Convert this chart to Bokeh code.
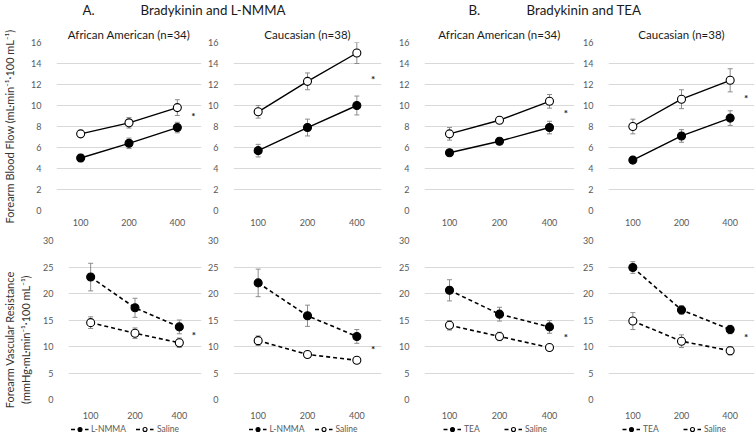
from bokeh.plotting import figure
from bokeh.models import (ColumnDataSource, FactorRange, Range1d, FixedTicker, Whisker,
                          TeeHead, Legend, LegendItem, Label)
from bokeh.transform import dodge
from bokeh.layouts import column, row
from bokeh.embed import file_html
from bokeh.resources import INLINE
from bokeh.core.properties import value

# ---------------- data ----------------
doses = ["100", "200", "400"]
fbf_ticks = [0, 2, 4, 6, 8, 10, 12, 14, 16]
fvr_ticks = [0, 5, 10, 15, 20, 25, 30]

# A. Bradykinin and L-NMMA -- forearm blood flow
fbf_aa_lnmma = [5.0, 6.4, 7.9]
fbf_aa_lnmma_err = [0.35, 0.5, 0.5]
fbf_aa_lnmma_saline = [7.3, 8.35, 9.8]
fbf_aa_lnmma_saline_err = [0.3, 0.5, 0.75]
fbf_aa_lnmma_star = 9.0

fbf_ca_lnmma = [5.7, 7.9, 10.0]
fbf_ca_lnmma_err = [0.6, 0.8, 0.9]
fbf_ca_lnmma_saline = [9.4, 12.3, 15.0]
fbf_ca_lnmma_saline_err = [0.6, 0.8, 1.0]
fbf_ca_lnmma_star = 12.5

# B. Bradykinin and TEA -- forearm blood flow
fbf_aa_tea = [5.5, 6.6, 7.9]
fbf_aa_tea_err = [0.2, 0.2, 0.6]
fbf_aa_tea_saline = [7.3, 8.6, 10.4]
fbf_aa_tea_saline_err = [0.6, 0.3, 0.65]
fbf_aa_tea_star = 9.3

fbf_ca_tea = [4.8, 7.1, 8.8]
fbf_ca_tea_err = [0.3, 0.6, 0.7]
fbf_ca_tea_saline = [8.0, 10.6, 12.4]
fbf_ca_tea_saline_err = [0.7, 0.9, 1.1]
fbf_ca_tea_star = 10.75

# A. forearm vascular resistance
fvr_aa_lnmma = [23.1, 17.3, 13.7]
fvr_aa_lnmma_err = [2.6, 1.8, 1.3]
fvr_aa_lnmma_saline = [14.5, 12.5, 10.7]
fvr_aa_lnmma_saline_err = [1.1, 1.0, 0.9]
fvr_aa_lnmma_star = 12.1

fvr_ca_lnmma = [22.0, 15.8, 11.9]
fvr_ca_lnmma_err = [2.6, 2.0, 1.3]
fvr_ca_lnmma_saline = [11.1, 8.5, 7.4]
fvr_ca_lnmma_saline_err = [0.9, 0.4, 0.4]
fvr_ca_lnmma_star = 9.5

# B. forearm vascular resistance
fvr_aa_tea = [20.6, 16.1, 13.7]
fvr_aa_tea_err = [2.0, 1.3, 1.2]
fvr_aa_tea_saline = [14.0, 11.9, 9.8]
fvr_aa_tea_saline_err = [0.9, 0.8, 0.5]
fvr_aa_tea_star = 11.7

fvr_ca_tea = [24.9, 16.9, 13.2]
fvr_ca_tea_err = [1.1, 0.8, 0.8]
fvr_ca_tea_saline = [14.8, 11.0, 9.2]
fvr_ca_tea_saline_err = [1.6, 1.2, 0.8]
fvr_ca_tea_star = 11.7

FONT = "Lato"
TICK_COLOR = "#595959"
GRID_COLOR = "#d9d9d9"
ERR_COLOR = "#8c8c8c"
NAN = float("nan")


def style_series(p, src, filled, dashed):
    dash = "4 3" if dashed else "solid"
    lw = 1.6 if dashed else 1.4
    ln = p.line("x", "y", source=src, line_color="black", line_width=lw, line_dash=dash)
    sc = p.scatter("x", "y", source=src, size=8, marker="circle",
                   fill_color="black" if filled else "white",
                   line_color="black", line_width=1.1)
    return ln, sc


def make_panel(title, inhib, inhib_err, sal, sal_err, star_y, ticks, y_end,
               dashed, width, height, bl, br, bt, bb,
               ylabel=None, ylabel_standoff=10, xlabel_standoff=5):
    p = figure(x_range=FactorRange(*doses), y_range=Range1d(0, y_end),
               width=width, height=height, output_backend="svg",
               toolbar_location=None, min_border_left=bl, min_border_right=br,
               min_border_top=bt, min_border_bottom=bb)
    p.outline_line_color = None
    if title:
        p.title.text = title
        p.title.align = "center"
        p.title.text_font = FONT
        p.title.text_font_size = "11.5px"
        p.title.text_font_style = "normal"
        p.title.text_color = "#1a1a1a"
        p.title.standoff = 4
    p.xgrid.grid_line_color = None
    p.ygrid.grid_line_color = GRID_COLOR
    p.ygrid.grid_line_width = 1
    p.yaxis.ticker = FixedTicker(ticks=ticks)
    for ax in (p.xaxis[0], p.yaxis[0]):
        ax.axis_line_color = None
        ax.major_tick_line_color = None
        ax.minor_tick_line_color = None
        ax.major_label_text_font = FONT
        ax.major_label_text_font_size = "9px"
        ax.major_label_text_color = TICK_COLOR
    p.yaxis.major_label_standoff = 9
    p.xaxis.major_label_standoff = xlabel_standoff
    if ylabel:
        p.yaxis.axis_label = ylabel
        p.yaxis.axis_label_text_font = FONT
        p.yaxis.axis_label_text_font_size = "11px"
        p.yaxis.axis_label_text_font_style = "normal"
        p.yaxis.axis_label_text_color = "#333333"
        p.yaxis.axis_label_standoff = ylabel_standoff

    src_i = ColumnDataSource(dict(x=doses, y=inhib,
                                  lo=[v - e for v, e in zip(inhib, inhib_err)],
                                  hi=[v + e for v, e in zip(inhib, inhib_err)]))
    src_s = ColumnDataSource(dict(x=doses, y=sal,
                                  lo=[v - e for v, e in zip(sal, sal_err)],
                                  hi=[v + e for v, e in zip(sal, sal_err)]))
    for src in (src_i, src_s):
        w = Whisker(base="x", upper="hi", lower="lo", source=src,
                    line_color=ERR_COLOR, line_width=1, level="underlay",
                    upper_head=TeeHead(size=5, line_color=ERR_COLOR, line_width=1),
                    lower_head=TeeHead(size=5, line_color=ERR_COLOR, line_width=1))
        p.add_layout(w)

    style_series(p, src_s, False, dashed)
    style_series(p, src_i, True, dashed)

    star_src = ColumnDataSource(dict(x=[doses[-1]], y=[star_y], t=["*"]))
    p.text(x=dodge("x", 0.33, range=p.x_range), y="y", text="t", source=star_src,
           text_font=value(FONT), text_font_size="10px", text_font_style="bold",
           text_align="center", text_baseline="middle", text_color="#1a1a1a")
    return p


def make_legend_strip(inhib_name, width, height, bl, br):
    q = figure(x_range=Range1d(0, 1), y_range=Range1d(0, 1), width=width, height=height,
               output_backend="svg", toolbar_location=None, min_border_left=bl,
               min_border_right=br, min_border_top=0, min_border_bottom=0)
    q.axis.visible = False
    q.grid.grid_line_color = None
    q.outline_line_color = None
    # legend-only renderers: one undefined (NaN) point each, nothing is drawn in the frame
    key_i = ColumnDataSource(dict(x=[NAN], y=[NAN]))
    key_s = ColumnDataSource(dict(x=[NAN], y=[NAN]))
    l_i, s_i = style_series(q, key_i, True, True)
    l_s, s_s = style_series(q, key_s, False, True)
    legend = Legend(items=[LegendItem(label=inhib_name, renderers=[l_i, s_i]),
                           LegendItem(label="Saline", renderers=[l_s, s_s])],
                    orientation="horizontal", location="center")
    legend.border_line_color = None
    legend.background_fill_alpha = 0
    legend.label_text_font = FONT
    legend.label_text_font_size = "8.5px"
    legend.label_text_color = TICK_COLOR
    legend.glyph_width = 18
    legend.glyph_height = 10
    legend.label_height = 10
    legend.label_width = 30
    legend.label_standoff = 3
    legend.spacing = 10
    legend.margin = 0
    legend.padding = 0
    q.add_layout(legend)
    return q


# column geometry: (width, border_left, border_right)
cols = [(204, 56, 3), (182, 29, 5), (194, 38, 6), (176, 22, 2)]
TOP_H, TOP_BT, TOP_BB = 208, 22, 18
BOT_H, BOT_BT, BOT_BB = 193, 12, 18
LEG_H = 16

NB = "\u00a0" * 14
fbf_label = "Forearm Blood Flow (mL·min⁻¹·100 mL⁻¹)"
fvr_label = "Forearm Vascular Resistance" + NB + "\n(mmHg·mL·min⁻¹·100 mL⁻¹)" + NB

top_specs = [
    ("African American (n=34)", fbf_aa_lnmma, fbf_aa_lnmma_err, fbf_aa_lnmma_saline, fbf_aa_lnmma_saline_err, fbf_aa_lnmma_star),
    ("Caucasian (n=38)", fbf_ca_lnmma, fbf_ca_lnmma_err, fbf_ca_lnmma_saline, fbf_ca_lnmma_saline_err, fbf_ca_lnmma_star),
    ("African American (n=34)", fbf_aa_tea, fbf_aa_tea_err, fbf_aa_tea_saline, fbf_aa_tea_saline_err, fbf_aa_tea_star),
    ("Caucasian (n=38)", fbf_ca_tea, fbf_ca_tea_err, fbf_ca_tea_saline, fbf_ca_tea_saline_err, fbf_ca_tea_star),
]
bot_specs = [
    ("L-NMMA", fvr_aa_lnmma, fvr_aa_lnmma_err, fvr_aa_lnmma_saline, fvr_aa_lnmma_saline_err, fvr_aa_lnmma_star),
    ("L-NMMA", fvr_ca_lnmma, fvr_ca_lnmma_err, fvr_ca_lnmma_saline, fvr_ca_lnmma_saline_err, fvr_ca_lnmma_star),
    ("TEA", fvr_aa_tea, fvr_aa_tea_err, fvr_aa_tea_saline, fvr_aa_tea_saline_err, fvr_aa_tea_star),
    ("TEA", fvr_ca_tea, fvr_ca_tea_err, fvr_ca_tea_saline, fvr_ca_tea_saline_err, fvr_ca_tea_star),
]

top_row = []
for i, (t, a, ae, b, be, st) in enumerate(top_specs):
    w, bl, br = cols[i]
    top_row.append(make_panel(t, a, ae, b, be, st, fbf_ticks, 16, False,
                              w, TOP_H, bl, br, TOP_BT, TOP_BB,
                              ylabel=fbf_label if i == 0 else None, ylabel_standoff=12,
                              xlabel_standoff=2))
bot_row = []
leg_row = []
for i, (name, a, ae, b, be, st) in enumerate(bot_specs):
    w, bl, br = cols[i]
    bot_row.append(make_panel(None, a, ae, b, be, st, fvr_ticks, 30, True,
                              w, BOT_H, bl, br, BOT_BT, BOT_BB,
                              ylabel=fvr_label if i == 0 else None, ylabel_standoff=8,
                              xlabel_standoff=6))
    leg_row.append(make_legend_strip(name, w, LEG_H, bl, br))

# header with panel-group titles
header = figure(width=756, height=20, x_range=Range1d(0, 756), y_range=Range1d(0, 20),
                output_backend="svg", toolbar_location=None, min_border=0)
header.axis.visible = False
header.grid.grid_line_color = None
header.outline_line_color = None
for txt, xpos in [("A.", 82), ("Bradykinin and L-NMMA", 140), ("B.", 468), ("Bradykinin and TEA", 526)]:
    header.add_layout(Label(x=xpos, y=11, text=txt, text_font=FONT, text_font_size="13.3px",
                            text_color="#1a1a1a", text_baseline="middle"))

layout = column(header, row(*top_row), row(*bot_row), row(*leg_row))

with open("out.html", "w") as f:
    f.write(file_html(layout, INLINE))
